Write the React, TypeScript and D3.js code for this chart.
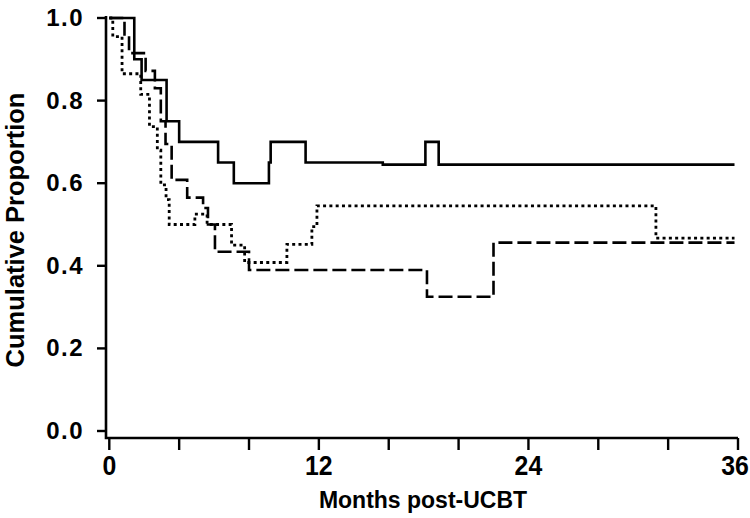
import React, { useEffect, useRef } from 'react';
import * as d3 from 'd3';

// Months post-UCBT and cumulative proportion for each group
const solidTimes = [0, 1.43, 1.85, 3.28, 4.0, 6.23, 7.13, 9.14, 9.24, 11.24, 15.66, 18.1, 18.86, 35.8];
const solidValues = [1.0, 0.90, 0.85, 0.75, 0.70, 0.65, 0.60, 0.65, 0.70, 0.65, 0.645, 0.70, 0.645, 0.645];

const dashedTimes = [0, 0.87, 1.13, 2.08, 2.61, 2.95, 3.22, 3.57, 4.46, 5.37, 5.65, 6.05, 8.0, 18.19, 22.0, 35.8];
const dashedValues = [1.0, 0.96, 0.915, 0.872, 0.83, 0.75, 0.695, 0.608, 0.565, 0.54, 0.50, 0.434, 0.39, 0.325, 0.456, 0.456];

const dottedTimes = [0, 0.2, 0.73, 1.8, 2.3, 2.75, 2.95, 3.25, 3.43, 4.9, 5.6, 7.0, 7.75, 10.17, 11.6, 11.89, 31.3, 35.8];
const dottedValues = [1.0, 0.955, 0.865, 0.815, 0.737, 0.68, 0.596, 0.56, 0.50, 0.525, 0.50, 0.45, 0.408, 0.452, 0.495, 0.545, 0.467, 0.467];

const xTicks = [0, 4, 8, 12, 16, 20, 24, 28, 32, 36];
const xTickLabels = ['0', '', '', '12', '', '', '24', '', '', '36'];
const yTicks = [0, 0.2, 0.4, 0.6, 0.8, 1.0];

const font = '"Liberation Sans", Arial, Helvetica, sans-serif';

const App = () => {
  const svgRef = useRef(null);

  useEffect(() => {
    const svg = d3.select(svgRef.current);
    svg.selectAll('*').remove();

    const x = d3.scaleLinear().domain([0, 36]).range([109.3, 738]);
    const y = d3.scaleLinear().domain([0, 1]).range([431, 18]);

    const axisColor = '#000';
    const axisY = 438;
    const axisX = 106;

    // axis lines (L shape)
    svg.append('path')
      .attr('d', `M${axisX},${y(1) - 2}V${axisY}H${x(36)}`)
      .attr('fill', 'none')
      .attr('stroke', axisColor)
      .attr('stroke-width', 2.6);

    // y ticks + labels
    yTicks.forEach(v => {
      svg.append('line')
        .attr('x1', axisX - 9).attr('x2', axisX)
        .attr('y1', y(v)).attr('y2', y(v))
        .attr('stroke', axisColor).attr('stroke-width', 2.4);
      svg.append('text')
        .attr('x', 84)
        .attr('y', y(v) + 8)
        .attr('text-anchor', 'end')
        .attr('font-family', font)
        .attr('font-weight', 'bold')
        .attr('font-size', 24)
        .attr('letter-spacing', 1.5)
        .text(v.toFixed(1));
    });

    // x ticks + labels
    xTicks.forEach((v, i) => {
      svg.append('line')
        .attr('x1', x(v)).attr('x2', x(v))
        .attr('y1', axisY).attr('y2', axisY + 12)
        .attr('stroke', axisColor).attr('stroke-width', 2.4);
      if (xTickLabels[i]) {
        const cx = Math.min(x(v), 735);
        svg.append('text')
          .attr('transform', `translate(${cx},475) scale(0.92,1)`)
          .attr('text-anchor', 'middle')
          .attr('font-family', font)
          .attr('font-weight', 'bold')
          .attr('font-size', 27)
          .text(xTickLabels[i]);
      }
    });

    // axis titles
    svg.append('text')
      .attr('x', 423)
      .attr('y', 508)
      .attr('text-anchor', 'middle')
      .attr('font-family', font)
      .attr('font-weight', 'bold')
      .attr('font-size', 23)
      .text('Months post-UCBT');

    svg.append('text')
      .attr('transform', 'translate(24,230) rotate(-90)')
      .attr('text-anchor', 'middle')
      .attr('font-family', font)
      .attr('font-weight', 'bold')
      .attr('font-size', 25.5)
      .text('Cumulative Proportion');

    // step curves
    const line = d3.line()
      .x(d => x(d[0]))
      .y(d => y(d[1]))
      .curve(d3.curveStepAfter);

    const series = [
      { t: dottedTimes, v: dottedValues, dash: '3,3.3', w: 2.8 },
      { t: dashedTimes, v: dashedValues, dash: '14,5', w: 2.6 },
      { t: solidTimes, v: solidValues, dash: null, w: 2.6 },
    ];

    series.forEach(s => {
      const pts = s.t.map((t, i) => [t, s.v[i]]);
      svg.append('path')
        .datum(pts)
        .attr('d', line)
        .attr('fill', 'none')
        .attr('stroke', '#000')
        .attr('stroke-width', s.w)
        .attr('stroke-dasharray', s.dash);
    });
  }, []);

  return (
    <svg
      ref={svgRef}
      width={750}
      height={518}
      style={{ position: 'absolute', left: 0, top: 0, background: '#fff' }}
    />
  );
};

export default App;
